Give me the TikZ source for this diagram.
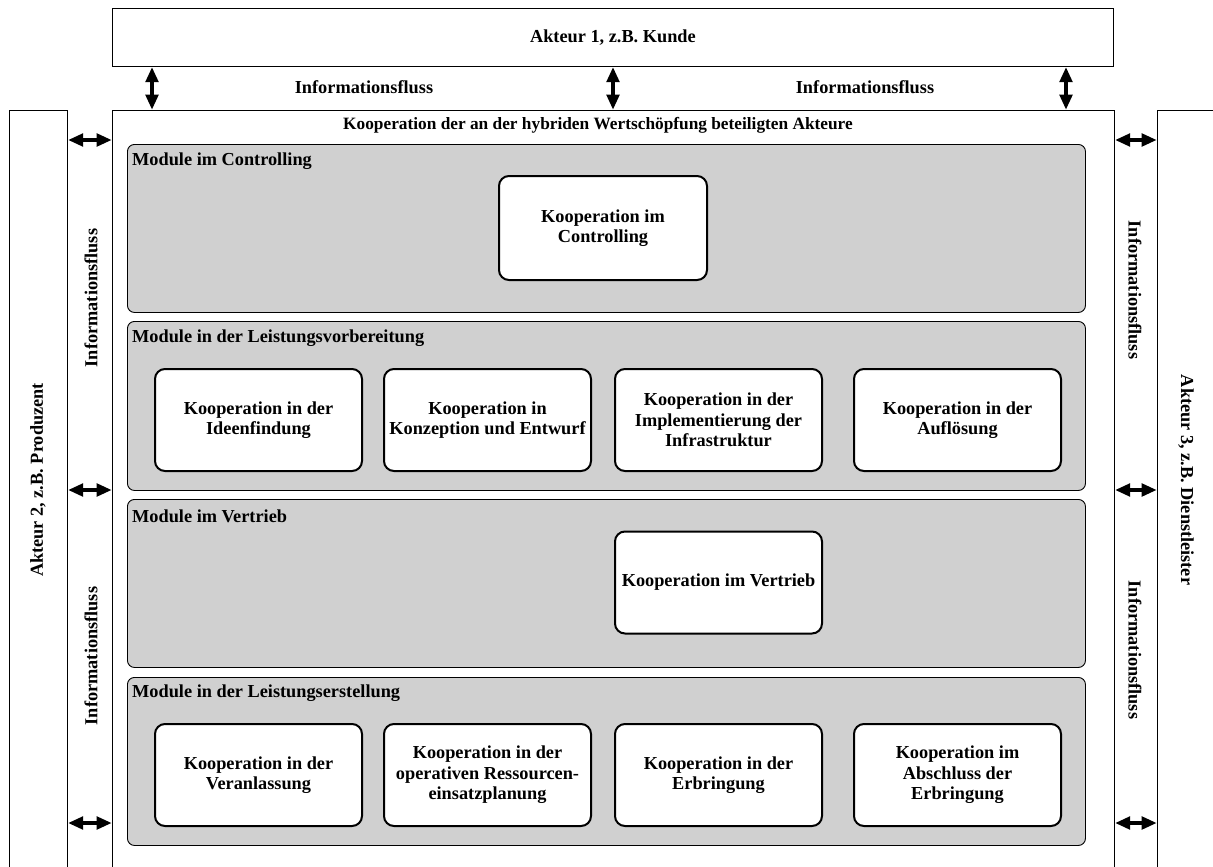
\documentclass[tikz,border=0pt]{standalone}
\usepackage{fontspec}
\setmainfont{Liberation Serif}
\usetikzlibrary{arrows.meta}
\definecolor{panelgray}{HTML}{D0D0D0}
\tikzset{
  txt/.style={font=\fontsize{18.3}{20.5}\selectfont\bfseries, align=center},
  plain/.style={draw=black, line width=0.8pt, fill=white, inner sep=0pt},
  panel/.style={draw=black, line width=0.9pt, fill=panelgray, rounded corners=7pt, inner sep=0pt},
  modbox/.style={draw=black, line width=2pt, fill=white, rounded corners=10pt, inner sep=0pt,
    minimum width=207pt, minimum height=102pt, font=\fontsize{18.3}{20.5}\selectfont\bfseries, align=center},
  ptitle/.style={font=\fontsize{18.3}{20.5}\selectfont\bfseries, anchor=west, inner sep=0pt},
  arr/.style={{Triangle[length=15pt,width=12.5pt]}-{Triangle[length=15pt,width=12.5pt]}, line width=3.5pt, shorten <=0.3pt, shorten >=0.3pt}
}
\begin{document}
\begin{tikzpicture}[x=1pt,y=-1pt]
\useasboundingbox (0,0) rectangle (1213,867);
\clip (0,0) rectangle (1213,867);
\fill[white] (0,0) rectangle (1213,867);
% actor boxes
\node[plain, minimum width=1001pt, minimum height=58pt, anchor=north west] (top) at (112,8) {};
\node[txt] (toplbl) at (top.center) {Akteur 1, z.B. Kunde};
\node[plain, minimum width=1002pt, minimum height=780pt, anchor=north west] (main) at (112,110) {};
\node[plain, minimum width=58pt, minimum height=780pt, anchor=north west] (left) at (9,110) {};
\node[plain, minimum width=80pt, minimum height=780pt, anchor=north west] (right) at (1157,110) {};
\node[txt, rotate=90] (leftlbl) at (38,480) {Akteur 2, z.B. Produzent};
\node[txt, rotate=-90] (rightlbl) at (1186,480) {Akteur 3, z.B. Dienstleister};
\node[txt, font=\fontsize{17.3}{20}\selectfont\bfseries] (mainlbl) at (598,125) {Kooperation der an der hybriden Wertschöpfung beteiligten Akteure};
% information flow labels
\node[txt] (if1) at (364,87) {Informationsfluss};
\node[txt] (if2) at (865,87) {Informationsfluss};
\node[txt, rotate=90] (if3) at (91,298) {Informationsfluss};
\node[txt, rotate=90] (if4) at (91,656) {Informationsfluss};
\node[txt, rotate=-90] (if5) at (1135,290) {Informationsfluss};
\node[txt, rotate=-90] (if6) at (1135,650) {Informationsfluss};
% arrow positions
\coordinate (v1) at (152,0);
\coordinate (v2) at (613,0);
\coordinate (v3) at (1066,0);
\coordinate (h1) at (0,140);
\coordinate (h2) at (0,490);
\coordinate (h3) at (0,823);
\foreach \v in {v1,v2,v3}{\draw[arr] (top.south -| \v) -- (main.north -| \v);}
\foreach \h in {h1,h2,h3}{
  \draw[arr] (left.east |- \h) -- (main.west |- \h);
  \draw[arr] (main.east |- \h) -- (right.west |- \h);
}
% panels
\node[panel, minimum width=958pt, minimum height=168pt, anchor=north west] (p1) at (127,144) {};
\node[panel, minimum width=958pt, minimum height=169pt, anchor=north west] (p2) at (127,321) {};
\node[panel, minimum width=958pt, minimum height=168pt, anchor=north west] (p3) at (127,499) {};
\node[panel, minimum width=958pt, minimum height=168pt, anchor=north west] (p4) at (127,677) {};
\node[ptitle] (t1) at (132,161) {Module im Controlling};
\node[ptitle] (t2) at (132,338) {Module in der Leistungsvorbereitung};
\node[ptitle] (t3) at (132,516) {Module im Vertrieb};
\node[ptitle] (t4) at (132,693) {Module in der Leistungserstellung};
% module boxes
\node[modbox, minimum width=208pt, minimum height=104pt] (c1) at (603,228) {Kooperation im\\Controlling};
\node[modbox] (b1) at (258.5,420) {Kooperation in der\\Ideenfindung};
\node[modbox] (b2) at (487.5,420) {Kooperation in\\Konzeption und Entwurf};
\node[modbox] (b3) at (718.5,420) {Kooperation in der\\Implementierung der\\Infrastruktur};
\node[modbox] (b4) at (957.5,420) {Kooperation in der\\Auflösung};
\node[modbox] (v) at (718.5,582.5) {Kooperation im Vertrieb};
\node[modbox] (e1) at (258.5,775) {Kooperation in der\\Veranlassung};
\node[modbox] (e2) at (487.5,775) {Kooperation in der\\operativen Ressourcen-\\einsatzplanung};
\node[modbox] (e3) at (718.5,775) {Kooperation in der\\Erbringung};
\node[modbox] (e4) at (957.5,775) {Kooperation im\\Abschluss der\\Erbringung};
\end{tikzpicture}
\end{document}
